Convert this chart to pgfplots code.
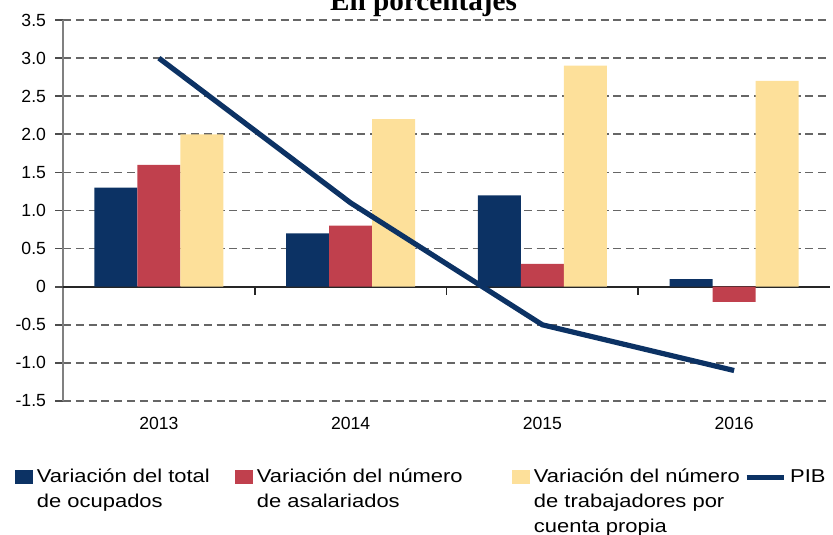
\documentclass[border=0pt]{standalone}
\usepackage{pgfplots}
\pgfplotsset{compat=1.18}
\usepackage{fontspec}
\setmainfont{Liberation Sans}
\newfontfamily\legfont[FakeStretch=1.18]{Liberation Sans}
\newfontfamily\titlefont{Liberation Serif}
\definecolor{navy}{RGB}{12,50,100}
\definecolor{cred}{RGB}{192,64,77}
\definecolor{cyel}{RGB}{253,224,154}
\pgfplotsset{sqlegend/.style={legend image code/.code={\fill[##1] (0pt,-3.5pt) rectangle (9pt,3.5pt);}},
  lnlegend/.style={legend image code/.code={\draw[##1] (0pt,0pt) -- (18.5pt,0pt);}}}
\begin{document}
\begin{tikzpicture}
\begin{axis}[
  name=ax,
  at={(0pt,0pt)}, anchor=south west,
  scale only axis,
  width=383.5pt, height=190.5pt,
  xmin=-0.5, xmax=3.5,
  ymin=-1.5, ymax=3.5,
  axis y line=left,
  axis x line=middle,
  axis line style={-},
  x axis line style={black!85, line width=1pt},
  y axis line style={gray, line width=0.6pt},
  hide obscured y ticks=false,
  hide obscured x ticks=false,
  tick align=outside,
  major tick length=4pt,
  ytick={-1.5,-1,-0.5,0.5,1,1.5,2,2.5,3,3.5},
  yticklabels={-1.5,-1.0,-0.5,0.5,1.0,1.5,2.0,2.5,3.0,3.5},
  extra y ticks={0},
  extra y tick labels={0},
  extra y tick style={grid style={solid, black!85, line width=1pt}},
  ytick style={black!70, line width=0.8pt},
  ymajorgrids,
  grid style={dash pattern=on 4pt off 2.4pt, black!60, line width=0.8pt},
  yticklabel style={font=\fontsize{8.8}{10}\selectfont, anchor=east, xshift=-1pt},
  xtick={0,1,2,3},
  xticklabels={2013,2014,2015,2016},
  xtick style={draw=none},
  xticklabel style={font=\fontsize{8.8}{10}\selectfont, anchor=base, yshift=-67.5pt},
  extra x ticks={0.5,1.5,2.5},
  extra x tick labels={},
  extra x tick style={xtick style={black!85, line width=0.8pt, draw}},
  legend columns=4,
  legend cell align=left,
  legend style={at={(-0.0626,-0.1785)}, anchor=north west, draw=none, fill=none,
    inner sep=0pt, outer sep=0pt,
    font=\legfont\fontsize{9.3}{12.5}\selectfont,
    nodes={inner sep=0pt},
    /tikz/every odd column/.style={column sep=2pt},
    /tikz/column 7/.style={column sep=3pt}},
]
\addplot[ybar, bar width=21.5pt, bar shift=-21.5pt, fill=navy, draw=none, sqlegend]
  coordinates {(0,1.3) (1,0.7) (2,1.2) (3,0.1)};
\addlegendentry{\parbox[t]{99pt}{Variación del total\\de ocupados}}
\addplot[ybar, bar width=21.5pt, bar shift=0pt, fill=cred, draw=none, sqlegend]
  coordinates {(0,1.6) (1,0.8) (2,0.3) (3,-0.2)};
\addlegendentry{\parbox[t]{127.5pt}{Variación del número\\de asalariados}}
\addplot[ybar, bar width=21.5pt, bar shift=21.5pt, fill=cyel, draw=none, sqlegend]
  coordinates {(0,2.0) (1,2.2) (2,2.9) (3,2.7)};
\addlegendentry{\parbox[t]{105pt}{Variación del número\\de trabajadores por\\cuenta propia}}
\addplot[navy, line width=2.6pt, lnlegend]
  coordinates {(0,3.0) (1,1.1) (2,-0.5) (3,-1.1)};
\addlegendentry{PIB}
\end{axis}
\node[anchor=base, font=\titlefont\bfseries\fontsize{14.6}{16}\selectfont]
  at ([shift={(180.25pt,195pt)}]ax.south west) {En porcentajes};
\pgfresetboundingbox
\path[use as bounding box] ([shift={(-31.5pt,-66.5pt)}]ax.south west) rectangle ([shift={(385pt,200.5pt)}]ax.south west);
\end{tikzpicture}
\end{document}
